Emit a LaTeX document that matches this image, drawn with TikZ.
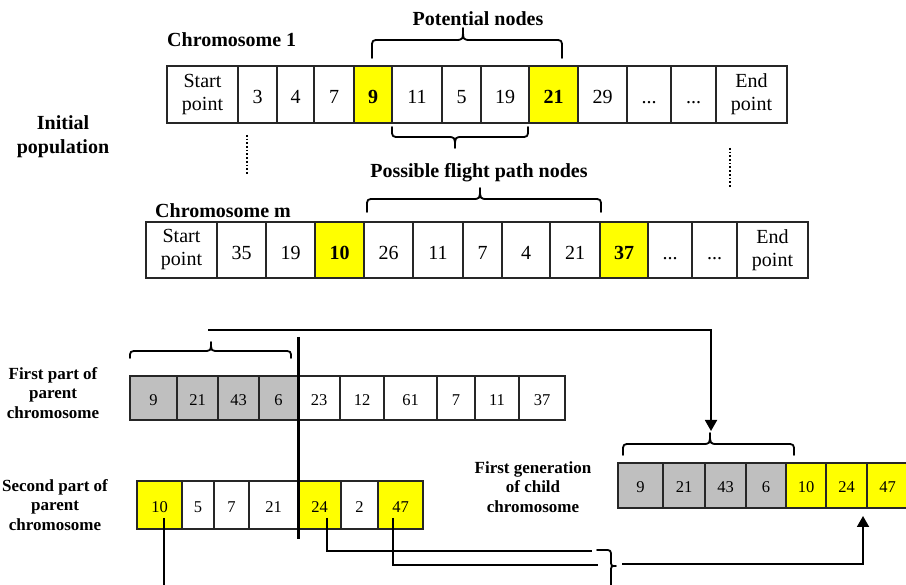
\documentclass[tikz,border=0pt]{standalone}
\usepackage{fontspec}
\setmainfont{Liberation Serif}
\usetikzlibrary{arrows.meta}

\definecolor{cellyellow}{HTML}{FFFF00}
\definecolor{cellgray}{HTML}{BFBFBF}
\definecolor{cellline}{HTML}{262626}

\tikzset{
  cellstrut/.store in=\cellstrutht,
  cell/.style={draw=cellline, line width=1.2pt, inner sep=0pt, align=center,
    font=\fontsize{20}{23}\selectfont, cellstrut=0.925em,
    execute at begin node={\rule{0pt}{\cellstrutht}}},
  smallcell/.style={cell, font=\fontsize{16.5}{18}\selectfont, cellstrut=0.86em},
  title/.style={font=\fontsize{20}{24}\selectfont\bfseries, align=center, inner sep=0pt},
  side/.style={font=\fontsize{17}{19.5}\selectfont\bfseries, align=center, inner sep=0pt},
  bracestroke/.style={line width=1.8pt, line join=round, line cap=round},
  link/.style={line width=1.8pt},
  cutline/.style={line width=3pt},
  arrowlink/.style={link, -{Triangle[width=12pt,length=11pt]}},
  dotline/.style={line width=1.7pt, dotted}
}

% placeholder gene shown as three dots
\newcommand{\gapdots}{...}

% One chromosome: name, top y, bottom y, cell style, list of left/right/fill/text
\newcommand{\chromrow}[5]{%
  \foreach \a/\b/\f/\t [count=\k] in {#5}{%
    \node[#4, fill=\f, minimum width={(\b-\a)*1pt}, minimum height={(#3-#2)*1pt}]
      (#1-\k) at ({(\a+\b)/2},{(#2+#3)/2}) {\t};
  }%
}

% Horizontal curly brace: left x, right x, tip x, end y, flat y, tip y
\newcommand{\hcurly}[6]{%
  \pgfmathsetmacro\yc{#5+((#4>#5)?1:-1)*min(8,abs(#4-#5))}%
  \draw[bracestroke] (#1,#4) -- (#1,\yc) .. controls (#1,#5) .. ({#1+8},#5)
    -- ({#3-8},#5) .. controls (#3,#5) .. (#3,#6)
    .. controls (#3,#5) .. ({#3+8},#5) -- ({#2-8},#5)
    .. controls (#2,#5) .. (#2,\yc) -- (#2,#4);
}

\begin{document}
\begin{tikzpicture}[x=1pt,y=-1pt]
\useasboundingbox (0,0) rectangle (906,585);
\clip (0,0) rectangle (906,585);

% ---------- initial population ----------
\node[title] (pop) at (63,137) {Initial\\population};
\node[title, anchor=west] (lab1) at (167,40) {Chromosome 1};
\node[title] (potn) at (478,19) {Potential nodes};

\chromrow{ca}{66}{123}{cell}{167/238/white/{Start\\point}, 238/277/white/3,
  277/314/white/4, 314/354/white/7, 354/392/cellyellow/\textbf{9},
  392/442/white/11, 442/481/white/5, 481/529/white/19,
  529/578/cellyellow/\textbf{21}, 578/627/white/29, 627/671/white/\gapdots,
  671/716/white/\gapdots, 716/787/white/{End\\point}}

\hcurly{372}{562}{463}{58}{40}{28}
\hcurly{392}{528}{455}{127}{137}{148}

\draw[dotline] (247,135) -- (247,175);
\draw[dotline] (730,148) -- (730,188);

\node[title] (pfp) at (479,173) {Possible flight path nodes};
\node[title, anchor=west] (labm) at (155,211) {Chromosome m};
\hcurly{367}{601}{480}{212}{199}{188}

\chromrow{cm}{222}{278}{cell}{146/217/white/{Start\\point}, 217/266/white/35,
  266/315/white/19, 315/364/cellyellow/\textbf{10}, 364/413/white/26,
  413/463/white/11, 463/502/white/7, 502/550/white/4, 550/600/white/21,
  600/648/cellyellow/\textbf{37}, 648/692/white/\gapdots, 692/737/white/\gapdots,
  737/808/white/{End\\point}}

% ---------- crossover ----------
\node[side] (lfirst) at (53,393) {First part of\\parent\\chromosome};
\node[side] (lsecond) at (55,505) {Second part of\\parent\\chromosome};
\node[side] (lchild) at (533,487) {First generation\\of child\\chromosome};

\chromrow{pa}{376}{420}{smallcell}{130/177/cellgray/9, 177/218/cellgray/21,
  218/259/cellgray/43, 259/298/cellgray/6, 298/340/white/23, 340/384/white/12,
  384/437/white/61, 437/475/white/7, 475/519/white/11, 519/565/white/37}

\chromrow{pb}{481}{529}{smallcell}{137/182/cellyellow/10, 182/214/white/5,
  214/249/white/7, 249/298/white/21, 298/341/cellyellow/24, 341/378/white/2,
  378/423/cellyellow/47}

\chromrow{ch}{463}{508}{smallcell}{618/663/cellgray/9, 663/705/cellgray/21,
  705/746/cellgray/43, 746/786/cellgray/6, 786/826/cellyellow/10,
  826/867/cellyellow/24, 867/908/cellyellow/47}

\hcurly{130}{291}{211}{358}{351}{342}
\hcurly{623}{794}{710}{455}{444}{433}

% crossover cut
\draw[cutline] (298,337) -- (298,539);

% first part carried over to the child
\coordinate (headstart) at (208,330);
\coordinate (headturn) at (711,330);
\coordinate (headend) at (711,431);
\draw[arrowlink] (headstart) -- (headturn) -- (headend);

% genes taken from the second parent
\coordinate (g10) at (164,518);
\coordinate (g24) at (327,518);
\coordinate (g47) at (393,518);
\draw[link] (g10) -- (164,600);
\draw[link] (g24) |- (592,551);
\draw[link] (g47) |- (598,565);

% merging brace
\draw[bracestroke] (597,550) -- (604,550) .. controls (611,550) .. (611,557)
  -- (611,560) .. controls (611,566) .. (616,566)
  .. controls (611,566) .. (611,572) -- (611,600);

\coordinate (tailstart) at (622,564);
\coordinate (tailend) at (863,516);
\draw[arrowlink] (tailstart) -| (tailend);
\end{tikzpicture}
\end{document}
